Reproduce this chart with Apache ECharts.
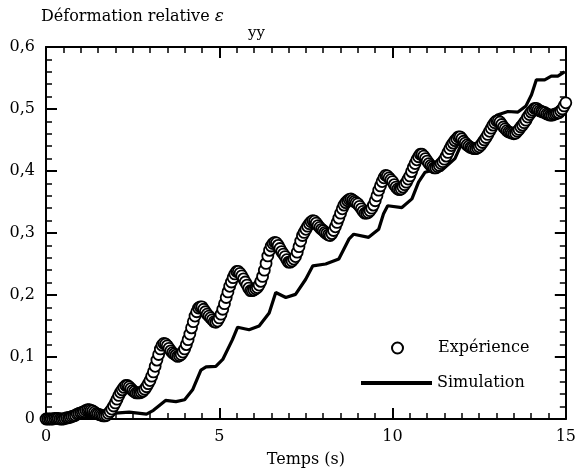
<!DOCTYPE html>
<html>
<head>
<meta charset="utf-8">
<script src="https://cdn.jsdelivr.net/npm/echarts@6/dist/echarts.min.js"></script>
<style>
  html, body { margin: 0; padding: 0; background: #fff; }
  #chart { width: 579px; height: 474px; }
</style>
</head>
<body>
<div id="chart"></div>
<script>
// ---- Data ----
const timeExp = [
  0.00,0.05,0.10,0.15,0.20,0.25,0.30,0.35,0.40,0.45,0.50,0.55,0.60,0.65,0.70,0.75,0.80,0.85,0.90,0.95,
  1.00,1.05,1.10,1.15,1.20,1.25,1.30,1.35,1.40,1.45,1.50,1.55,1.60,1.65,1.70,1.75,1.80,1.85,1.90,1.95,
  2.00,2.05,2.10,2.15,2.20,2.25,2.30,2.35,2.40,2.45,2.50,2.55,2.60,2.65,2.70,2.75,2.80,2.85,2.90,2.95,
  3.00,3.05,3.10,3.15,3.20,3.25,3.30,3.35,3.40,3.45,3.50,3.55,3.60,3.65,3.70,3.75,3.80,3.85,3.90,3.95,
  4.00,4.05,4.10,4.15,4.20,4.25,4.30,4.35,4.40,4.45,4.50,4.55,4.60,4.65,4.70,4.75,4.80,4.85,4.90,4.95,
  5.00,5.05,5.10,5.15,5.20,5.25,5.30,5.35,5.40,5.45,5.50,5.55,5.60,5.65,5.70,5.75,5.80,5.85,5.90,5.95,
  6.00,6.05,6.10,6.15,6.20,6.25,6.30,6.35,6.40,6.45,6.50,6.55,6.60,6.65,6.70,6.75,6.80,6.85,6.90,6.95,
  7.00,7.05,7.10,7.15,7.20,7.25,7.30,7.35,7.40,7.45,7.50,7.55,7.60,7.65,7.70,7.75,7.80,7.85,7.90,7.95,
  8.00,8.05,8.10,8.15,8.20,8.25,8.30,8.35,8.40,8.45,8.50,8.55,8.60,8.65,8.70,8.75,8.80,8.85,8.90,8.95,
  9.00,9.05,9.10,9.15,9.20,9.25,9.30,9.35,9.40,9.45,9.50,9.55,9.60,9.65,9.70,9.75,9.80,9.85,9.90,9.95,
  10.00,10.05,10.10,10.15,10.20,10.25,10.30,10.35,10.40,10.45,10.50,10.55,10.60,10.65,10.70,10.75,10.80,10.85,10.90,10.95,
  11.00,11.05,11.10,11.15,11.20,11.25,11.30,11.35,11.40,11.45,11.50,11.55,11.60,11.65,11.70,11.75,11.80,11.85,11.90,11.95,
  12.00,12.05,12.10,12.15,12.20,12.25,12.30,12.35,12.40,12.45,12.50,12.55,12.60,12.65,12.70,12.75,12.80,12.85,12.90,12.95,
  13.00,13.05,13.10,13.15,13.20,13.25,13.30,13.35,13.40,13.45,13.50,13.55,13.60,13.65,13.70,13.75,13.80,13.85,13.90,13.95,
  14.00,14.05,14.10,14.15,14.20,14.25,14.30,14.35,14.40,14.45,14.50,14.55,14.60,14.65,14.70,14.75,14.80,14.85,14.90,14.95,
  15.00
];
const strainExp = [
  0.000,0.000,0.000,0.000,0.000,0.001,0.001,0.001,0.000,0.000,0.000,0.001,0.002,0.002,0.003,0.004,0.005,0.006,0.008,0.009,
  0.010,0.011,0.012,0.014,0.015,0.015,0.014,0.013,0.011,0.009,0.008,0.007,0.006,0.005,0.005,0.006,0.009,0.012,0.016,0.021,
  0.026,0.032,0.038,0.043,0.047,0.051,0.054,0.054,0.052,0.049,0.046,0.044,0.042,0.042,0.042,0.043,0.045,0.048,0.052,0.057,
  0.062,0.069,0.076,0.085,0.095,0.104,0.113,0.119,0.122,0.121,0.118,0.114,0.110,0.107,0.105,0.103,0.101,0.102,0.104,0.108,
  0.113,0.120,0.128,0.137,0.147,0.157,0.166,0.173,0.179,0.181,0.181,0.177,0.173,0.169,0.166,0.163,0.160,0.157,0.156,0.158,
  0.163,0.169,0.177,0.186,0.196,0.205,0.214,0.221,0.228,0.234,0.238,0.238,0.235,0.231,0.226,0.221,0.216,0.211,0.207,0.207,
  0.208,0.210,0.212,0.216,0.222,0.230,0.240,0.251,0.263,0.272,0.279,0.283,0.285,0.284,0.280,0.275,0.270,0.266,0.262,0.257,
  0.253,0.253,0.255,0.258,0.262,0.269,0.278,0.287,0.296,0.301,0.306,0.311,0.315,0.318,0.320,0.319,0.316,0.312,0.309,0.306,
  0.304,0.301,0.299,0.297,0.296,0.299,0.304,0.310,0.317,0.324,0.332,0.339,0.345,0.349,0.352,0.354,0.355,0.353,0.351,0.349,
  0.347,0.343,0.339,0.335,0.332,0.332,0.333,0.336,0.340,0.345,0.352,0.360,0.369,0.376,0.383,0.389,0.393,0.392,0.389,0.386,
  0.383,0.378,0.374,0.371,0.370,0.371,0.374,0.378,0.382,0.387,0.392,0.399,0.406,0.412,0.418,0.423,0.427,0.427,0.424,0.420,
  0.416,0.412,0.409,0.407,0.405,0.405,0.407,0.409,0.412,0.415,0.419,0.424,0.430,0.436,0.441,0.445,0.449,0.452,0.455,0.455,
  0.452,0.448,0.445,0.442,0.440,0.438,0.437,0.436,0.436,0.437,0.439,0.442,0.446,0.450,0.454,0.459,0.464,0.469,0.474,0.478,
  0.481,0.481,0.479,0.475,0.471,0.468,0.465,0.463,0.462,0.461,0.460,0.461,0.464,0.467,0.471,0.474,0.478,0.482,0.487,0.491,
  0.495,0.498,0.501,0.501,0.499,0.497,0.496,0.495,0.494,0.492,0.491,0.490,0.490,0.491,0.492,0.493,0.494,0.497,0.500,0.505,
  0.510
];
const timeSim = [
  0.0,0.5,1.0,1.5,1.9,2.4,2.9,3.1,3.45,3.75,4.0,4.23,4.47,4.62,4.9,5.1,5.38,5.53,5.86,6.15,
  6.44,6.63,6.92,7.2,7.49,7.7,8.07,8.45,8.74,8.88,9.31,9.6,9.74,9.86,10.27,10.56,10.75,10.94,
  11.13,11.42,11.8,12.0,12.38,12.7,13.0,13.33,13.62,13.85,14.01,14.15,14.39,14.58,14.77,14.96
];
const strainSim = [
  0.000,0.000,0.002,0.005,0.009,0.011,0.008,0.014,0.030,0.028,0.031,0.047,0.079,0.084,0.085,0.096,0.128,0.148,0.144,0.150,
  0.171,0.204,0.196,0.201,0.225,0.247,0.250,0.258,0.290,0.298,0.293,0.306,0.331,0.344,0.341,0.355,0.382,0.398,
  0.401,0.401,0.420,0.445,0.441,0.452,0.490,0.496,0.495,0.505,0.523,0.547,0.547,0.553,0.553,0.560
];
const xTickLabels = ['0', '5', '10', '15'];
const yTickLabels = ['0', '0,1', '0,2', '0,3', '0,4', '0,5', '0,6'];
const seriesNames = ['Expérience', 'Simulation'];
const yTitle = 'Déformation relative ';
const yTitleSymbol = 'ε';
const yTitleSub = 'yy';
const xTitle = 'Temps (s)';

// ---- Chart ----
const FONT = 'DejaVu Serif';
const chart = echarts.init(document.getElementById('chart'));

function axisCommon(extra) {
  return Object.assign({
    axisLine: { show: true, onZero: false, lineStyle: { color: '#000', width: 2 } },
    axisTick: { show: true, inside: true, length: 11, lineStyle: { color: '#000', width: 2 } },
    splitLine: { show: false },
    minorSplitLine: { show: false }
  }, extra);
}

const option = {
  animation: false,
  backgroundColor: '#fff',
  textStyle: { fontFamily: FONT, color: '#000' },
  title: [
    {
      text: yTitle + '{e|' + yTitleSymbol + '}',
      left: 41, top: 8, padding: 0,
      textStyle: {
        fontFamily: FONT, fontSize: 16, fontWeight: 'normal', color: '#000',
        rich: { e: { fontFamily: FONT, fontSize: 17, fontStyle: 'italic', color: '#000' } }
      }
    },
    {
      text: yTitleSub,
      left: 248, top: 26, padding: 0,
      textStyle: { fontFamily: FONT, fontSize: 15, fontWeight: 'normal', color: '#000' }
    }
  ],
  grid: { left: 46, right: 10, top: 47, bottom: 55, containLabel: false },
  legend: [
    {
      data: [{ name: seriesNames[0], icon: 'circle' }],
      left: 391, top: 340, padding: 0,
      itemWidth: 11, itemHeight: 11,
      textStyle: { fontFamily: FONT, fontSize: 16, color: '#000', padding: [0, 0, 0, 30] }
    },
    {
      data: [{ name: seriesNames[1], icon: 'rect' }],
      left: 361, top: 375, padding: 0,
      itemWidth: 71, itemHeight: 4, itemGap: 0,
      textStyle: { fontFamily: FONT, fontSize: 16, color: '#000', padding: [0, 0, 0, 0] }
    }
  ],
  xAxis: [
    axisCommon({
      type: 'value', min: 0, max: 15, interval: 5, position: 'bottom',
      minorTick: { show: true, splitNumber: 10, length: 6, lineStyle: { color: '#000', width: 1.5 } },
      axisLabel: {
        fontFamily: FONT, fontSize: 16, color: '#000', margin: 10,
        formatter: function (v) { return xTickLabels[Math.round(v / 5)]; }
      },
      name: xTitle, nameLocation: 'middle', nameGap: 33,
      nameTextStyle: { fontFamily: FONT, fontSize: 16, color: '#000' }
    }),
    axisCommon({
      type: 'value', min: 0, max: 15, interval: 5, position: 'top',
      minorTick: { show: true, splitNumber: 10, length: 6, lineStyle: { color: '#000', width: 1.5 } },
      axisLabel: { show: false }
    })
  ],
  yAxis: [
    axisCommon({
      type: 'value', min: 0, max: 0.6, interval: 0.1, position: 'left',
      minorTick: { show: true, splitNumber: 5, length: 6, lineStyle: { color: '#000', width: 1.5 } },
      axisLabel: {
        fontFamily: FONT, fontSize: 16, color: '#000', margin: 11,
        formatter: function (v) { return yTickLabels[Math.round(v * 10)]; }
      }
    }),
    axisCommon({
      type: 'value', min: 0, max: 0.6, interval: 0.1, position: 'right',
      minorTick: { show: true, splitNumber: 5, length: 6, lineStyle: { color: '#000', width: 1.5 } },
      axisLabel: { show: false }
    })
  ],
  series: [
    {
      name: seriesNames[1],
      type: 'line',
      xAxisIndex: 0, yAxisIndex: 0,
      data: timeSim.map(function (t, i) { return [t, strainSim[i]]; }),
      showSymbol: false, symbol: 'none',
      lineStyle: { color: '#000', width: 3.2 },
      itemStyle: { color: '#000' },
      z: 2
    },
    {
      name: seriesNames[0],
      type: 'scatter',
      xAxisIndex: 0, yAxisIndex: 0,
      data: timeExp.map(function (t, i) { return [t, strainExp[i]]; }),
      symbol: 'circle', symbolSize: 11,
      itemStyle: { color: '#fff', borderColor: '#000', borderWidth: 1.8, opacity: 1 },
      clip: false,
      z: 3
    }
  ]
};
chart.setOption(option);
</script>
</body>
</html>
